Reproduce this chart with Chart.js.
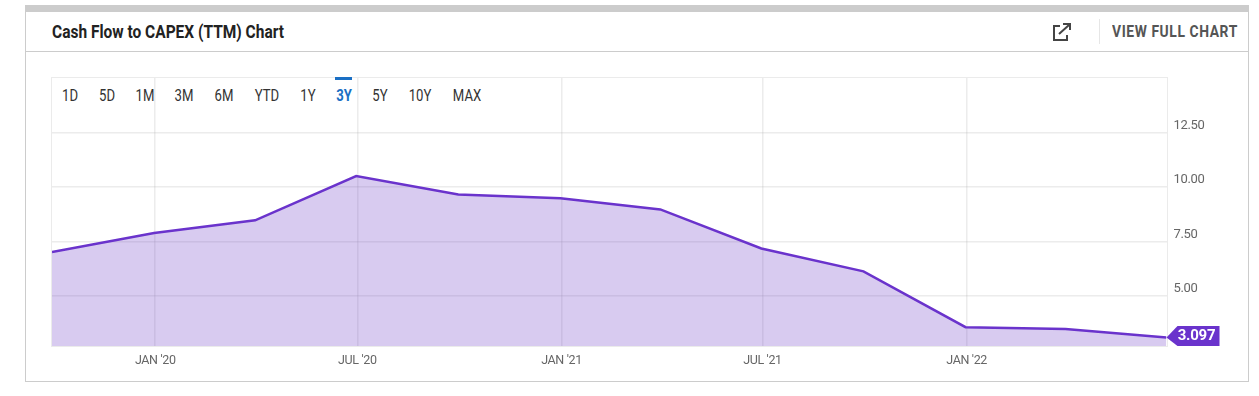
<!DOCTYPE html>
<html><head><meta charset="utf-8">
<script src="https://cdn.jsdelivr.net/npm/chart.js@4"></script>
<style>
html,body{margin:0;padding:0;background:#fff;width:1259px;height:396px;overflow:hidden;font-family:Roboto,sans-serif}
.a{position:absolute}
.t{position:absolute;white-space:nowrap;transform-origin:0 50%;line-height:20px}
.r{position:absolute;top:86px;white-space:nowrap;line-height:20px;font-size:16px;color:#333;transform:translateX(-50%) scaleX(.82)}
canvas{position:absolute;left:0;top:0}
</style></head><body>
<div class="a" style="left:25px;top:5px;width:1224px;height:7px;background:#ccc"></div>
<div class="a" style="left:25px;top:12px;width:1px;height:370px;background:#ccc"></div>
<div class="a" style="left:1248px;top:12px;width:1px;height:370px;background:#ccc"></div>
<div class="a" style="left:25px;top:381px;width:1224px;height:1px;background:#ccc"></div>
<div class="a" style="left:25px;top:51px;width:1224px;height:1px;background:#ccc"></div>
<div class="a" style="left:1099px;top:19px;width:1px;height:25px;background:#e6e6e6"></div>
<div class="t" id="title" style="left:52px;top:22px;font-size:17.5px;font-weight:700;color:#222;transform:scaleX(.885)">Cash Flow to CAPEX (TTM) Chart</div>
<div class="t" style="left:1112px;top:21.5px;font-size:16.5px;font-weight:700;color:#555;letter-spacing:.7px;transform:scaleX(.84)">VIEW FULL CHART</div>
<svg class="a" style="left:1052px;top:22px" width="20" height="20" viewBox="0 0 20 20" fill="none" stroke="#444" stroke-width="2"><path d="M8 4H2v14h13v-5"/><path d="M7 12L17 3M11 2h7v6"/></svg>
<div class="a" style="left:51px;top:77px;width:1115px;height:268px;border:1.5px solid #ebebeb"></div>
<div class="a" style="left:335px;top:77px;width:17px;height:3px;background:#1a6fc4"></div>
<div id="ranges"></div>
<canvas id="c" width="1259" height="396"></canvas>
<script>
const rangeLabels=["1D","5D","1M","3M","6M","YTD","1Y","3Y","5Y","10Y","MAX"];
const rangeCenters=[70,107,145,184,224,267,308,344,380,420,467];
const activeRange="3Y";
const dates=["2019-09-30","2019-12-31","2020-03-31","2020-06-30","2020-09-30","2020-12-31","2021-03-31","2021-06-30","2021-09-30","2021-12-31","2022-03-31","2022-06-30"];
const values=[7.02,7.89,8.47,10.50,9.66,9.48,8.97,7.18,6.13,3.57,3.49,3.097];
const xTickDates=["2020-01-01","2020-07-01","2021-01-01","2021-07-01","2022-01-01"];
const xTickLabels=["JAN '20","JUL '20","JAN '21","JUL '21","JAN '22"];
const yTicks=[5,7.5,10,12.5];
const yMin=2.706,yMax=15;
const lineColor="#6a33cc",fillColor="rgba(106,55,197,0.26)",gridColor="rgba(150,150,150,0.18)";

const day=s=>Date.parse(s+"T00:00:00Z")/864e5;
const box=document.getElementById("ranges");
rangeLabels.forEach((l,i)=>{const d=document.createElement("div");d.className="r";d.textContent=l;d.style.left=rangeCenters[i]+"px";
 if(l===activeRange){d.style.color="#1a6fc4";d.style.fontWeight="700";}box.appendChild(d);});

const condensed={id:"condensed",beforeDraw(ch){ch.ctx.letterSpacing="-0.35px";}};
const lastTag={id:"lastTag",afterDraw(ch){
 const c=ch.ctx,p=ch.getDatasetMeta(0).data.at(-1),v=values.at(-1);
 const x=p.x,y=p.y,top=ch.chartArea.bottom-20,bot=ch.chartArea.bottom,w=53;
 c.save();c.fillStyle=lineColor;c.beginPath();c.moveTo(x,y);c.lineTo(x+11,top);c.lineTo(x+w,top);c.lineTo(x+w,bot);c.lineTo(x+11,bot);c.closePath();c.fill();
 c.fillStyle="#fff";c.font="700 15px Roboto";c.letterSpacing="-0.25px";c.textAlign="center";c.textBaseline="middle";c.fillText(v.toFixed(3),x+w/2+3.5,(top+bot)/2+.5);c.restore();}};

new Chart(document.getElementById("c"),{
 type:"line",
 data:{datasets:[{data:dates.map((d,i)=>({x:day(d),y:values[i]})),borderColor:lineColor,backgroundColor:fillColor,borderWidth:2.5,fill:"start",pointRadius:0,tension:0}]},
 plugins:[condensed,lastTag],
 options:{responsive:false,animation:false,events:[],
  layout:{padding:{left:52,top:78,right:0,bottom:0}},
  plugins:{legend:{display:false},tooltip:{enabled:false}},
  scales:{
   x:{type:"linear",min:day(dates[0]),max:day(dates.at(-1)),
    afterBuildTicks(s){s.ticks=xTickDates.map(d=>({value:day(d)}));},
    afterFit(s){s.height=50;},
    grid:{color:gridColor,lineWidth:1.5,drawTicks:false},border:{display:false},
    ticks:{autoSkip:false,maxRotation:0,padding:7,color:"#666",font:{family:"Roboto",size:12.5},
     callback(v){return xTickLabels[xTickDates.findIndex(d=>day(d)===v)]??"";}}},
   y:{type:"linear",position:"right",min:yMin,max:yMax,
    afterBuildTicks(s){s.ticks=yTicks.map(v=>({value:v}));},
    afterFit(s){s.width=92.5;},
    grid:{color:gridColor,lineWidth:1.5,drawTicks:false},border:{display:false},
    ticks:{padding:7,labelOffset:-7,color:"#666",font:{family:"Roboto",size:13},callback(v){return v.toFixed(2);}}}
  }}
});
</script></body></html>
